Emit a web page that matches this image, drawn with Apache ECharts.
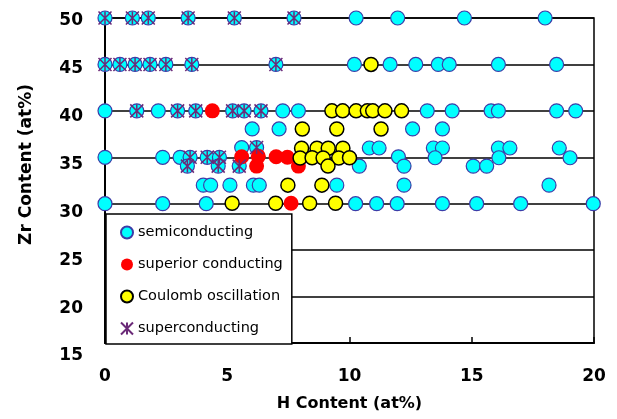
<!DOCTYPE html>
<html>
<head>
<meta charset="utf-8">
<script src="https://cdn.jsdelivr.net/npm/echarts@6/dist/echarts.min.js"></script>
<style>html,body{margin:0;padding:0;background:#fff;}#c{width:617px;height:419px;}</style>
</head>
<body>
<div id="c"></div>
<script>
const xTicks = [0, 5, 10, 15, 20];
const yTicks = [15, 20, 25, 30, 35, 40, 45, 50];
const seriesNames = ['semiconducting', 'superior conducting', 'Coulomb oscillation', 'superconducting'];

const semiconducting = [
  [0,50],[1.12,50],[1.77,50],[3.4,50],[5.29,50],[7.73,50],[10.27,50],[11.97,50],[14.7,50],[18.0,50],
  [0,45],[0.61,45],[1.23,45],[1.84,45],[2.49,45],[3.55,45],[6.99,45],[10.2,45],[11.66,45],[12.71,45],[13.63,45],[14.08,45],[16.09,45],[18.47,45],
  [0,40],[1.3,40],[2.18,40],[2.97,40],[3.71,40],[5.22,40],[5.69,40],[6.38,40],[7.27,40],[7.91,40],[13.18,40],[14.2,40],[15.79,40],[16.09,40],[18.47,40],[19.25,40],
  [6.02,38.05],[7.12,38.05],[12.58,38.05],[13.8,38.05],
  [5.59,36.05],[6.2,36.05],[10.81,36],[11.21,36],[13.43,36],[13.8,36],[16.09,36],[16.56,36],[18.58,36],
  [0,35],[2.36,35],[3.07,35],[3.48,35],[4.18,35],[4.68,35],[12.0,35.05],[13.5,34.95],[16.11,34.95],[19.02,34.95],
  [3.37,34.05],[4.63,34.05],[5.49,34.05],[10.4,34.05],[12.23,34.05],[15.06,34.05],[15.61,34.05],
  [4.02,32],[4.32,32],[5.11,32],[6.07,32],[6.31,32],[9.48,32],[12.23,32],[18.16,32],
  [0,30],[2.36,30],[4.14,30],[10.25,30],[11.11,30],[11.95,30],[13.8,30],[15.2,30],[17.0,30],[19.97,30]
];

const superiorConducting = [
  [4.39,40],[5.59,35.05],[6.27,35.1],[6.2,34.05],[7.0,35.05],[7.46,35],[7.91,34.05],[7.61,30.05]
];

const coulombOscillation = [
  [10.88,45],
  [9.28,40],[9.72,40],[10.27,40],[10.73,40],[10.95,40],[11.45,40],[12.13,40],
  [8.07,38.05],[9.48,38.05],[11.29,38.05],
  [8.04,35.97],[8.67,35.97],[9.13,35.97],[9.73,35.97],
  [7.98,34.92],[8.47,34.95],[8.92,34.92],[9.56,34.92],[10.0,34.95],
  [9.12,34.05],
  [7.48,32],[8.87,32],
  [5.2,30.05],[6.98,30.05],[8.37,30.05],[9.43,30.05]
];

const superconducting = [
  [0,50],[1.12,50],[1.77,50],[3.4,50],[5.29,50],[7.73,50],
  [0,45],[0.61,45],[1.23,45],[1.84,45],[2.49,45],[3.55,45],[6.99,45],
  [1.3,40],[2.97,40],[3.71,40],[5.22,40],[5.69,40],[6.38,40],
  [6.2,36.05],
  [3.48,35],[4.18,35],[4.68,35],
  [3.37,34.05],[4.63,34.05],[5.49,34.05]
];

const chart = echarts.init(document.getElementById('c'), null, {renderer: 'canvas'});
const boldFont = {fontFamily: 'DejaVu Sans', fontWeight: 'bold', fontSize: 17, color: '#000'};

chart.setOption({
  animation: false,
  backgroundColor: '#fff',
  grid: [
    {left: 105, right: 23, top: 18, bottom: 76, show: true, borderColor: '#000', borderWidth: 1.5, backgroundColor: 'transparent'},
    {left: 105, right: 23, top: 21, bottom: 63, show: false}
  ],
  legend: {
    orient: 'vertical',
    left: 106, top: 214,
    padding: [11, 9, 8, 14],
    itemWidth: 12, itemHeight: 12, itemGap: 17,
    backgroundColor: '#fff',
    borderColor: '#000', borderWidth: 1.5,
    textStyle: {fontFamily: 'DejaVu Sans', fontSize: 14.5, color: '#000'},
    data: seriesNames
  },
  xAxis: [
    {
      gridIndex: 0, type: 'value', min: xTicks[0], max: xTicks[xTicks.length - 1], interval: 5,
      name: 'H Content (at%)', nameLocation: 'middle', nameGap: 53,
      nameTextStyle: Object.assign({}, boldFont, {fontSize: 16}),
      axisLine: {show: true, lineStyle: {color: '#000', width: 2}},
      axisTick: {show: true, inside: true, length: 6, lineStyle: {color: '#000', width: 1.5}},
      axisLabel: Object.assign({margin: 25}, boldFont),
      splitLine: {show: false}
    },
    {gridIndex: 1, type: 'value', min: 0, max: 20, show: false}
  ],
  yAxis: [
    {
      gridIndex: 0, type: 'value', min: yTicks[0], max: yTicks[yTicks.length - 1], interval: 5,
      name: 'Zr Content (at%)', nameLocation: 'middle', nameGap: 70,
      nameTextStyle: Object.assign({}, boldFont, {padding: [0, 0, 0, 32]}),
      axisLine: {show: true, lineStyle: {color: '#000', width: 2}},
      axisTick: {show: false},
      axisLabel: {show: false},
      splitLine: {show: true, lineStyle: {color: '#000', width: 1.5}}
    },
    {
      gridIndex: 1, type: 'value', min: yTicks[0], max: yTicks[yTicks.length - 1], interval: 5,
      axisLine: {show: false}, axisTick: {show: false}, splitLine: {show: false},
      axisLabel: Object.assign({margin: 22}, boldFont)
    }
  ],
  series: [
    {
      name: seriesNames[0], type: 'scatter', data: semiconducting, symbol: 'circle', symbolSize: 14,
      itemStyle: {color: '#00FFFF', borderColor: '#3C3CA8', borderWidth: 1.2, opacity: 1}, z: 2
    },
    {
      name: seriesNames[1], type: 'scatter', data: superiorConducting, symbol: 'circle', symbolSize: 15,
      itemStyle: {color: '#FF0000', borderWidth: 0, opacity: 1}, z: 3
    },
    {
      name: seriesNames[2], type: 'scatter', data: coulombOscillation, symbol: 'circle', symbolSize: 14,
      itemStyle: {color: '#FFFF00', borderColor: '#000', borderWidth: 1.5, opacity: 1}, z: 4
    },
    {
      name: seriesNames[3], type: 'scatter', data: superconducting,
      symbol: 'path://M0,0L10,10M10,0L0,10M5,0L5,10', symbolSize: 13,
      itemStyle: {color: 'rgba(0,0,0,0)', borderColor: '#6B2A78', borderWidth: 1.5, opacity: 1}, z: 5
    }
  ]
});
</script>
</body>
</html>
